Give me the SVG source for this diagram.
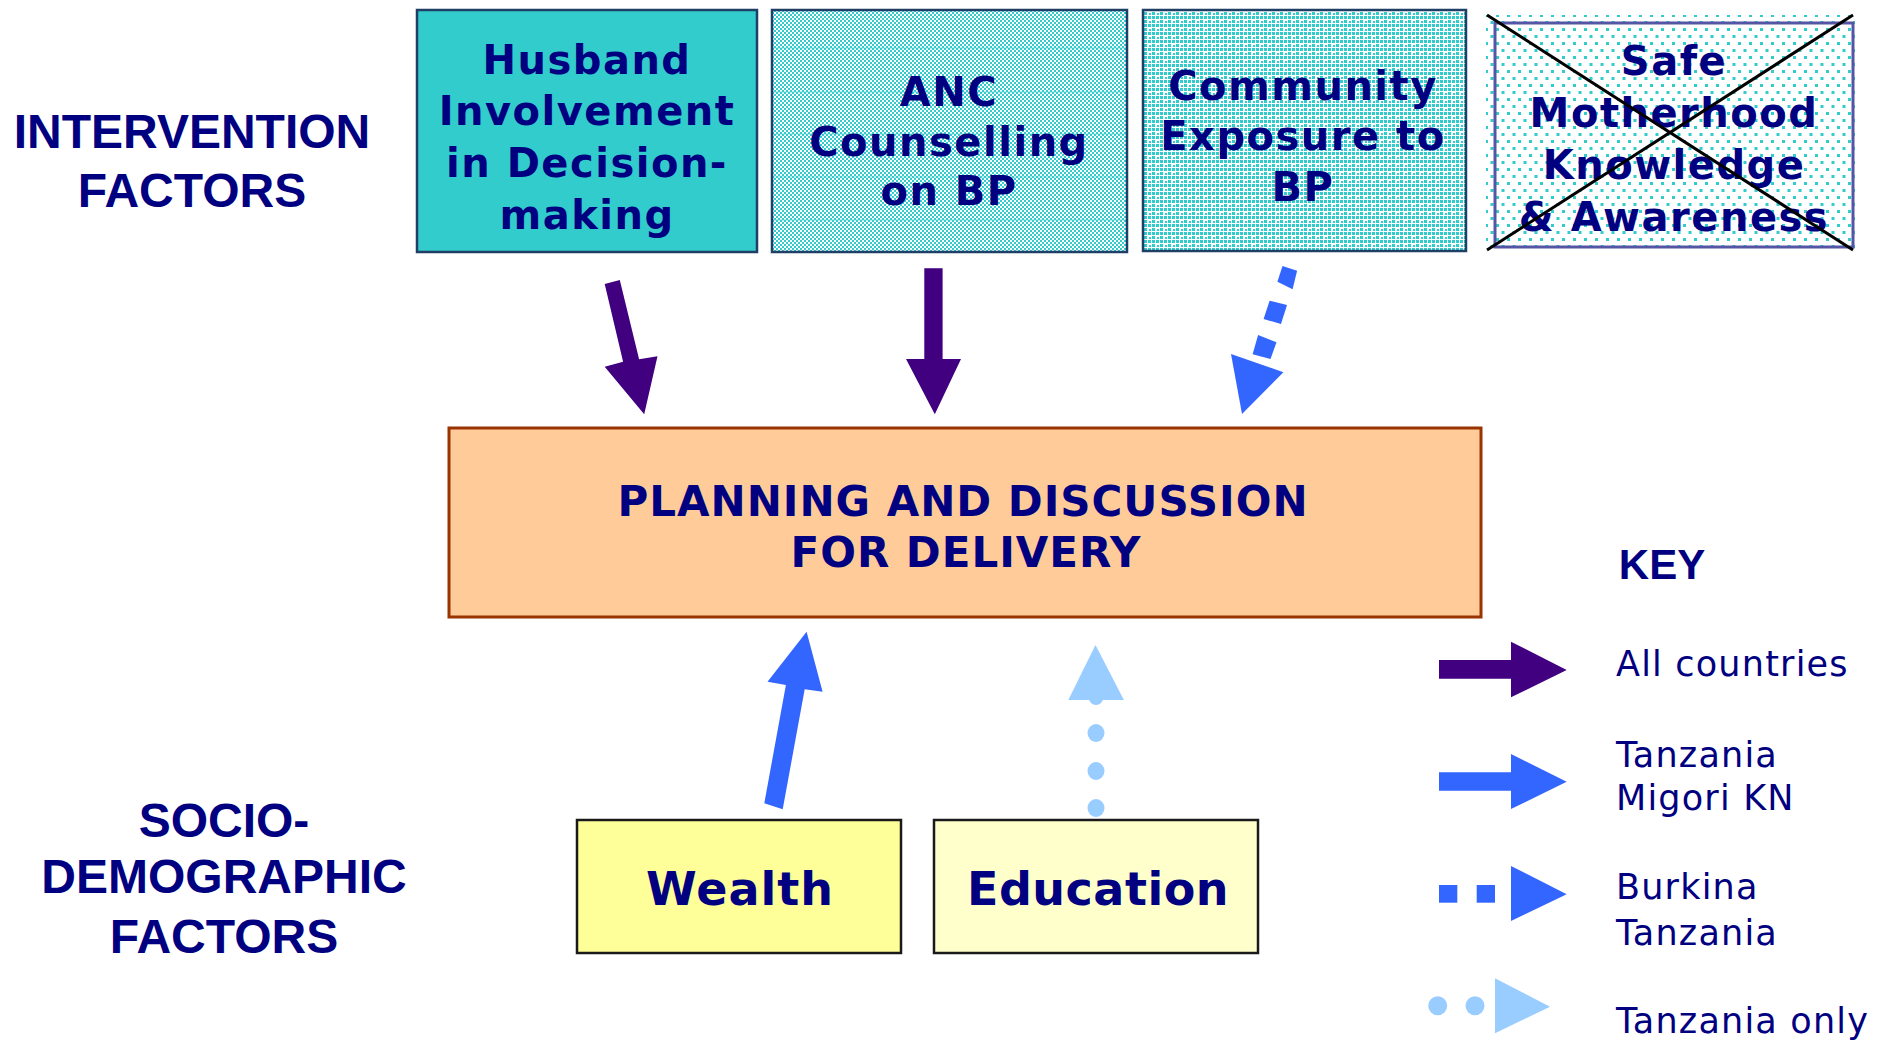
<svg xmlns="http://www.w3.org/2000/svg" width="1887" height="1041" viewBox="0 0 1887 1041">
<style>
.lbl{font-family:"Liberation Sans",Arial,sans-serif;font-weight:bold;fill:#000080;text-anchor:middle}
.bx{font-family:"DejaVu Sans",Verdana,sans-serif;font-weight:bold;fill:#000080;text-anchor:middle;font-size:40px;letter-spacing:1.5px}
.key{font-family:"DejaVu Sans",Verdana,sans-serif;fill:#000080;font-size:35px;letter-spacing:1.2px}
.purple{fill:#400080}
.blue{fill:#3366FF}
.light{fill:#99CCFF}
</style>
<defs>
<pattern id="chk" width="4" height="4" patternUnits="userSpaceOnUse">
<rect width="4" height="4" fill="#FFFFFF"/>
<rect x="0" y="0" width="2" height="2" fill="#33CCCC"/>
<rect x="2" y="2" width="2" height="2" fill="#33CCCC"/>
</pattern>
<pattern id="grid" width="8" height="8" patternUnits="userSpaceOnUse">
<rect width="8" height="8" fill="#FFFFFF"/>
<rect x="0" y="0" width="3" height="3" fill="#33CCCC"/>
<rect x="4" y="0" width="3" height="3" fill="#33CCCC"/>
<rect x="0" y="4" width="3" height="3" fill="#33CCCC"/>
<rect x="5" y="5" width="2" height="2" fill="#33CCCC"/>
</pattern>
<pattern id="dots" width="11" height="14" patternUnits="userSpaceOnUse">
<rect width="11" height="14" fill="#FFFFFF"/>
<rect x="0" y="0" width="3" height="3" fill="#33CCCC"/>
<rect x="5.5" y="7" width="3" height="3" fill="#33CCCC"/>
</pattern>
</defs>

<g id="label-intervention">
<text class="lbl" x="192" y="148" font-size="48">INTERVENTION</text>
<text class="lbl" x="192" y="207" font-size="48">FACTORS</text>
</g>
<g id="label-socio">
<text class="lbl" x="224" y="837" font-size="48">SOCIO-</text>
<text class="lbl" x="224" y="893" font-size="48">DEMOGRAPHIC</text>
<text class="lbl" x="224" y="953" font-size="48">FACTORS</text>
</g>

<g id="node-husband">
<rect x="417" y="10" width="340" height="242" fill="#33CCCC" stroke="#1F3F66" stroke-width="2.5"/>
<text class="bx" x="587" y="74">Husband</text>
<text class="bx" x="587" y="125">Involvement</text>
<text class="bx" x="587" y="177">in Decision-</text>
<text class="bx" x="587" y="229">making</text>
</g>

<g id="node-anc">
<rect x="772" y="10" width="355" height="242" fill="url(#chk)"/>
<g stroke="#33CCCC" stroke-width="1" stroke-opacity="0.6">
<line x1="773" y1="48" x2="1126" y2="48"/>
<line x1="773" y1="92" x2="1126" y2="92"/>
<line x1="773" y1="134" x2="1126" y2="134"/>
<line x1="773" y1="177" x2="1126" y2="177"/>
<line x1="773" y1="220" x2="1126" y2="220"/>
</g>
<rect x="772" y="10" width="355" height="242" fill="none" stroke="#1F3F66" stroke-width="2.5"/>
<text class="bx" x="949" y="106">ANC</text>
<text class="bx" x="949" y="156">Counselling</text>
<text class="bx" x="949" y="205">on BP</text>
</g>

<g id="node-community">
<rect x="1143" y="10" width="323" height="241" fill="url(#grid)" stroke="#1F3F66" stroke-width="2.5"/>
<text class="bx" x="1303" y="100">Community</text>
<text class="bx" x="1303" y="150">Exposure to</text>
<text class="bx" x="1303" y="201">BP</text>
</g>

<g id="node-safe">
<rect x="1486" y="15" width="369" height="236" fill="url(#dots)"/>
<rect x="1495" y="23" width="358" height="224" fill="none" stroke="#5555A5" stroke-width="3"/>
<text class="bx" x="1674" y="75">Safe</text>
<text class="bx" x="1674" y="127">Motherhood</text>
<text class="bx" x="1674" y="179">Knowledge</text>
<text class="bx" x="1674" y="231">&amp; Awareness</text>
<line x1="1487" y1="15" x2="1853" y2="250" stroke="#000000" stroke-width="3"/>
<line x1="1487" y1="250" x2="1853" y2="15" stroke="#000000" stroke-width="3"/>
</g>

<g id="node-planning">
<rect x="449" y="428" width="1032" height="189" fill="#FFCC99" stroke="#993300" stroke-width="3"/>
<text x="963" y="516" font-family="DejaVu Sans, Verdana, sans-serif" font-weight="bold" font-size="42" letter-spacing="1" fill="#000080" text-anchor="middle">PLANNING AND DISCUSSION</text>
<text x="966" y="567" font-family="DejaVu Sans, Verdana, sans-serif" font-weight="bold" font-size="42" letter-spacing="1" fill="#000080" text-anchor="middle">FOR DELIVERY</text>
</g>

<g id="node-wealth">
<rect x="577" y="820" width="324" height="133" fill="#FFFF99" stroke="#1A1A1A" stroke-width="2.5"/>
<text x="740" y="905" font-family="DejaVu Sans, Verdana, sans-serif" font-weight="bold" font-size="46" letter-spacing="1" fill="#000080" text-anchor="middle">Wealth</text>
</g>

<g id="node-education">
<rect x="934" y="820" width="324" height="133" fill="#FFFFCC" stroke="#1A1A1A" stroke-width="2.5"/>
<text x="1098" y="905" font-family="DejaVu Sans, Verdana, sans-serif" font-weight="bold" font-size="46" letter-spacing="0.5" fill="#000080" text-anchor="middle">Education</text>
</g>

<g id="connectors">
<polygon class="purple" points="604.7,284 619.8,280 639.1,359.3 657.5,356.3 644.2,414.3 604.7,366.7 623.1,361.7"/>
<polygon class="purple" points="924.3,268.3 942.6,268.3 942.6,359 961,359 934.8,414.3 906,359 924.3,359"/>
<g class="blue">
<polygon points="1282.5,266 1297.1,270.7 1292.6,289.3 1277.4,281.7"/>
<polygon points="1269.6,300.7 1287,305 1281,324 1263.6,319"/>
<polygon points="1258.1,335 1276.5,342.3 1270.5,359 1252.6,354.3"/>
<polygon points="1231,354 1283.4,372.3 1242,414"/>
</g>
<polygon class="blue" points="764.3,803.3 785.9,685 767.5,681.7 806.6,631.7 822.6,691.7 804.7,689.3 782.7,809.3"/>
<g class="light">
<ellipse cx="1096" cy="808" rx="8.5" ry="9"/>
<ellipse cx="1096" cy="771" rx="8.5" ry="9"/>
<ellipse cx="1096" cy="733" rx="8.5" ry="9"/>
<ellipse cx="1096" cy="698" rx="7" ry="7"/>
<polygon points="1068.3,700 1123.9,700 1095.5,645"/>
</g>
</g>

<g id="legend">
<text class="lbl" x="1662" y="579" font-size="42">KEY</text>
<polygon class="purple" points="1439,660 1511,660 1511,641.7 1566.7,670 1511,697.3 1511,678.7 1439,678.7"/>
<text class="key" x="1616" y="676">All countries</text>
<polygon class="blue" points="1439,772.3 1511,772.3 1511,754 1566.7,781.7 1511,809 1511,790.7 1439,790.7"/>
<text class="key" x="1616" y="767">Tanzania</text>
<text class="key" x="1616" y="810">Migori KN</text>
<g class="blue">
<rect x="1439" y="885" width="18.3" height="17.7"/>
<rect x="1476.7" y="885" width="18.3" height="17.7"/>
<polygon points="1511,866 1566.7,894.3 1511,921"/>
</g>
<text class="key" x="1616" y="899">Burkina</text>
<text class="key" x="1616" y="945">Tanzania</text>
<g class="light">
<circle cx="1437.7" cy="1005.7" r="9.5"/>
<circle cx="1475" cy="1005.7" r="9.5"/>
<polygon points="1495,978.3 1550,1006.7 1495,1033.3"/>
</g>
<text class="key" x="1616" y="1033">Tanzania only</text>
</g>
</svg>
